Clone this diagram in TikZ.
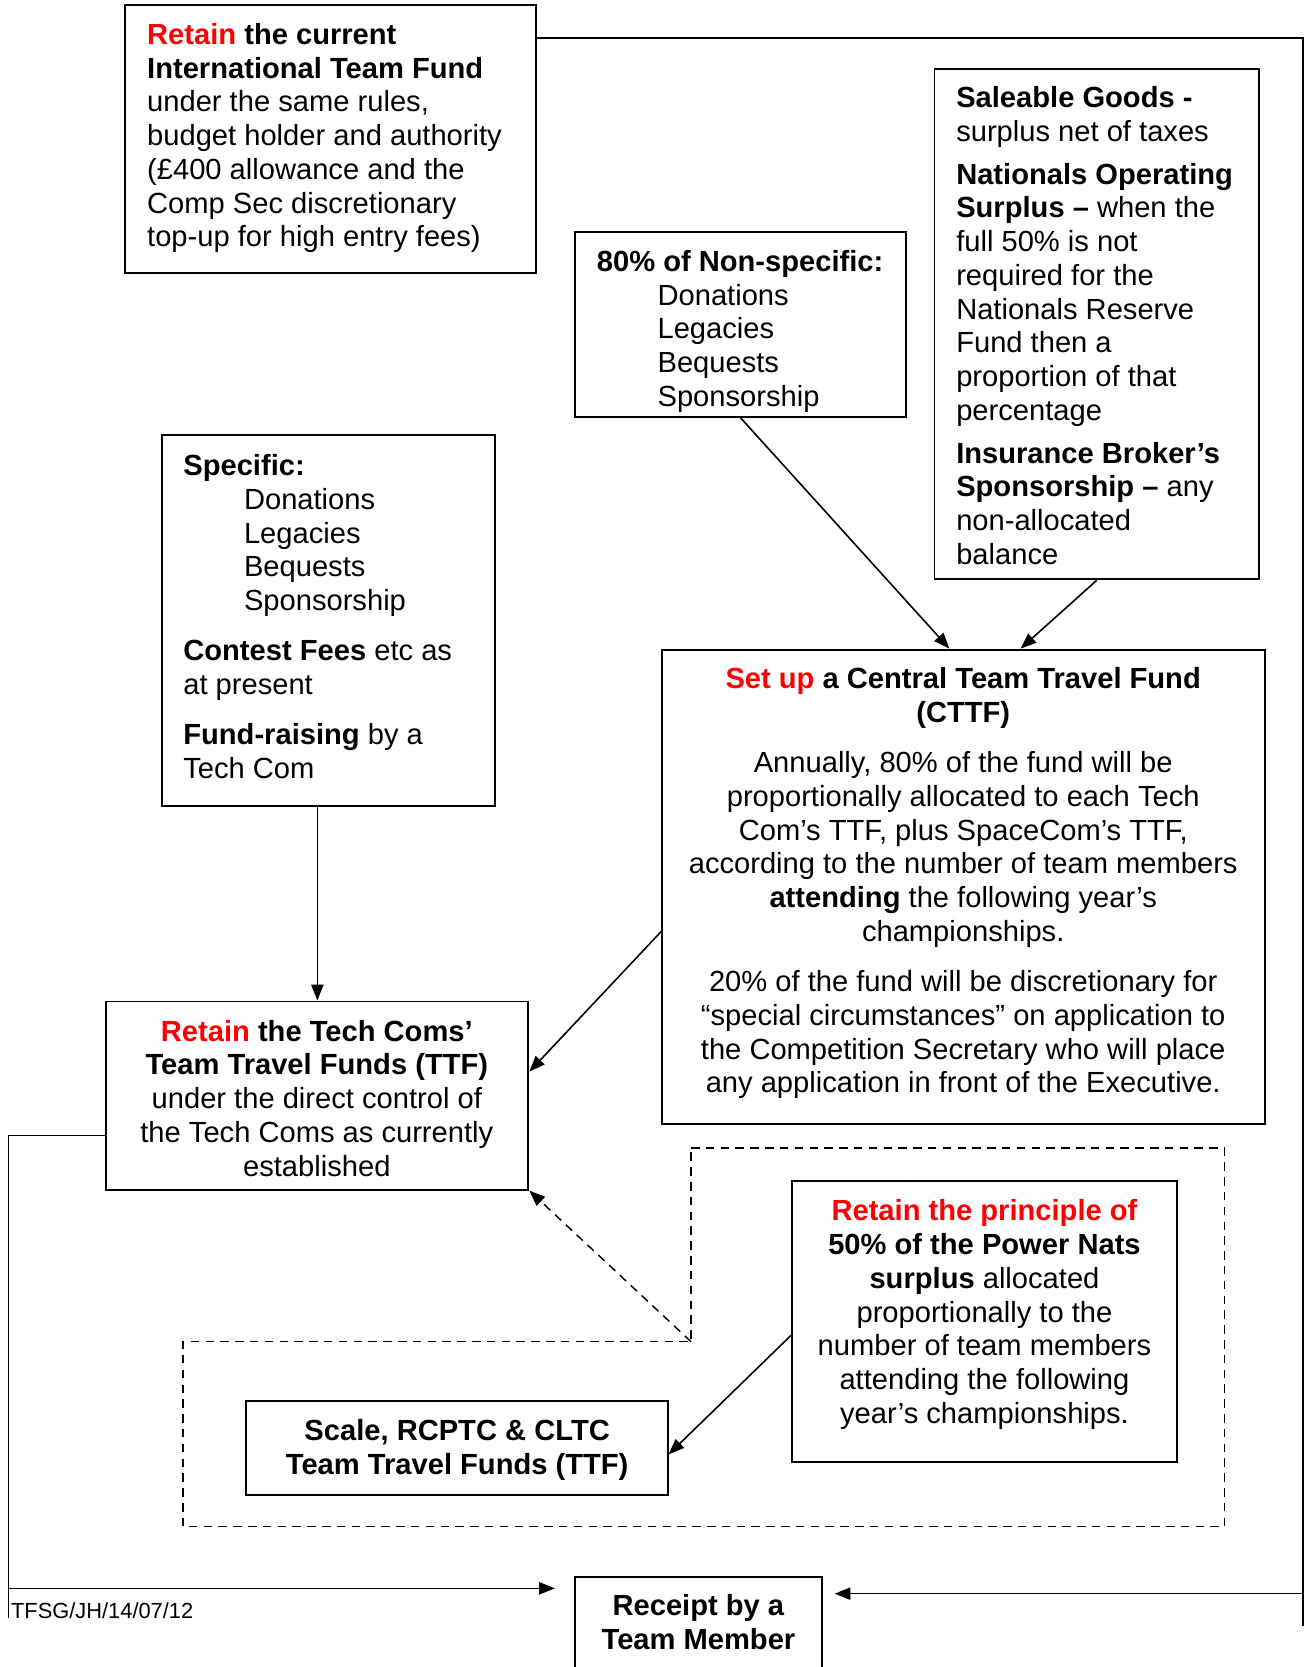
\documentclass[tikz,border=0pt]{standalone}
\usepackage{fontspec}
\setmainfont{Liberation Sans}
\usetikzlibrary{arrows.meta,calc}
\definecolor{retainred}{RGB}{255,0,0}
\tikzset{
  boxshape/.style={draw, line width=0.8pt, inner sep=0pt},
  txt/.style={inner sep=0pt, font=\fontsize{12}{13.9}\selectfont},
  conn/.style={line width=0.65pt},
  arr/.style={conn, -{Triangle[length=6.5pt,width=5pt]}},
  dashline/.style={line width=0.6pt, dash pattern=on 3.5pt off 2.6pt},
}
\newcommand\boxnode[5]{\node[boxshape, minimum width={(#4-#2)*0.438pt}, minimum height={(#5-#3)*0.438pt}] (#1) at ({(#2+#4)/2},{(#3+#5)/2}) {};}
\newcommand\rd[1]{\textcolor{retainred}{#1}}
\newcommand\ind{\hspace*{25pt}}
\begin{document}
\begin{tikzpicture}[x=0.438pt, y=-0.438pt]
\useasboundingbox (0,0) rectangle (1227,1568);
% boxes
\boxnode{itf}{118}{5}{504}{257}
\boxnode{ns}{541}{218}{852}{392}
\boxnode{sg}{879}{65}{1184}{545}
\boxnode{spec}{152}{409}{466}{758}
\boxnode{cttf}{623}{611}{1190}{1057}
\boxnode{tc}{100}{942}{497}{1119}
\boxnode{pn}{745}{1111}{1107}{1375}
\boxnode{sc}{231}{1318}{628}{1406}
\boxnode{rc}{541}{1483}{773}{1610}
% texts
\node[txt, anchor=north west, align=left] (itft) at (138,21.5) {%
\textbf{\rd{Retain} the current}\\
\textbf{International Team Fund}\\
under the same rules,\\
budget holder and authority\\
(£400 allowance and the\\
Comp Sec discretionary\\
top-up for high entry fees)};
\node[txt, anchor=north west, align=left] (nst) at (561,235) {%
\textbf{80\% of Non-specific:}\\
\ind Donations\\
\ind Legacies\\
\ind Bequests\\
\ind Sponsorship};
\node[txt, anchor=north west, align=left] (sgt) at (899,81) {%
\textbf{Saleable Goods -}\\
surplus net of taxes\\[3.7pt]
\textbf{Nationals Operating}\\
\textbf{Surplus –} when the\\
full 50\% is not\\
required for the\\
Nationals Reserve\\
Fund then a\\
proportion of that\\
percentage\\[3.7pt]
\textbf{Insurance Broker’s}\\
\textbf{Sponsorship –} any\\
non-allocated\\
balance};
\node[txt, anchor=north west, align=left] (spect) at (172,427) {%
\textbf{Specific:}\\
\ind Donations\\
\ind Legacies\\
\ind Bequests\\
\ind Sponsorship\\[6.8pt]
\textbf{Contest Fees} etc as\\
at present\\[6.8pt]
\textbf{Fund-raising} by a\\
Tech Com};
\node[txt, anchor=north, align=center] (cttft) at (906,627.5) {%
\textbf{\rd{Set up} a Central Team Travel Fund}\\
\textbf{(CTTF)}\\[6.8pt]
Annually, 80\% of the fund will be\\
proportionally allocated to each Tech\\
Com’s TTF, plus SpaceCom’s TTF,\\
according to the number of team members\\
\textbf{attending} the following year’s\\
championships.\\[6.8pt]
20\% of the fund will be discretionary for\\
“special circumstances” on application to\\
the Competition Secretary who will place\\
any application in front of the Executive.};
\node[txt, anchor=north, align=center] (tct) at (298,959) {%
\textbf{\rd{Retain} the Tech Coms’}\\
\textbf{Team Travel Funds (TTF)}\\
under the direct control of\\
the Tech Coms as currently\\
established};
\node[txt, anchor=north, align=center] (pnt) at (926,1128) {%
\textbf{\rd{Retain the principle of}}\\
\textbf{50\% of the Power Nats}\\
\textbf{surplus} allocated\\
proportionally to the\\
number of team members\\
attending the following\\
year’s championships.};
\node[txt, anchor=north, align=center] (sct) at (430,1334.5) {%
\textbf{Scale, RCPTC \& CLTC}\\
\textbf{Team Travel Funds (TTF)}};
\node[txt, anchor=north, align=center] (rct) at (657,1499.5) {%
\textbf{Receipt by a}\\
\textbf{Team Member}};
\node[inner sep=0pt, anchor=base west, font=\fontsize{9}{10.4}\selectfont] (ref) at (10,1522) {TFSG/JH/14/07/12};
% dashed region
\coordinate (dcorner) at (650,1262);
\draw[dashline] (650,1080) -- (1152,1080) -- (1152,1436) -- (172,1436) -- (172,1262) -- (dcorner) -- cycle;
% connectors
\draw[arr] (ns.south) -- ($(cttf.north)+(-13.5,0)$);
\draw[arr] (sg.south) -- ($(cttf.north)+(53.5,0)$);
\draw[arr] (spec.south -| tc.north) -- (tc.north);
\draw[arr] ($(cttf.west)+(0,42)$) -- ($(tc.east)+(0,-22.5)$);
\draw[dashline, -{Triangle[length=6.5pt,width=5pt]}] (dcorner) -- (tc.south east);
\draw[arr] ($(pn.west)+(0,13)$) -- ($(sc.east)+(0,6)$);
% left feed to receipt
\coordinate (lbottom) at (8,1522);
\coordinate (ljoin) at (8,1494);
\coordinate (lend) at (522,1494);
\draw[conn] ($(tc.west)+(0,37.5)$) -| (lbottom);
\draw[arr] (ljoin) -- (lend);
% right feed to receipt
\coordinate (rbottom) at (1225.5,1529);
\coordinate (rjoin) at (1225.5,1499);
\coordinate (rend) at (785,1499);
\draw[conn] ($(itf.east)+(0,-95)$) -| (rbottom);
\draw[arr] (rjoin) -- (rend);
\end{tikzpicture}
\end{document}
